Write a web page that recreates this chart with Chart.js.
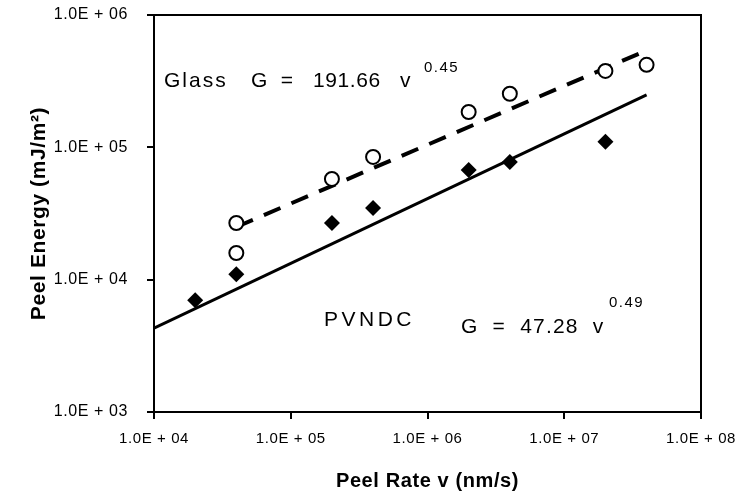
<!DOCTYPE html>
<html>
<head>
<meta charset="utf-8">
<script src="https://cdn.jsdelivr.net/npm/chart.js@4.4.1/dist/chart.umd.min.js"></script>
<style>
  html, body { margin: 0; padding: 0; background: #fff; }
  #wrap { width: 736px; height: 491px; }
</style>
</head>
<body>
<div id="wrap"><canvas id="peelChart" width="736" height="491"></canvas></div>
<script>
// peel energy vs peel rate, log-log

// measured points
const glassRate = [4e4, 4e4, 2e5, 4e5, 2e6, 4e6, 2e7, 4e7];
const glassEnergy = [2.68e4, 1.59e4, 5.77e4, 8.46e4, 1.85e5, 2.54e5, 3.78e5, 4.2e5];
const pvndcRate = [2e4, 4e4, 2e5, 4e5, 2e6, 4e6, 2e7];
const pvndcEnergy = [7.0e3, 1.10e4, 2.68e4, 3.48e4, 6.75e4, 7.76e4, 1.10e5];

// fitted power-law lines (end points)
const glassFitRate = [4e4, 4e7];
const glassFitEnergy = [2.5e4, 5.4e5];
const pvndcFitRate = [1e4, 4e7];
const pvndcFitEnergy = [4.3e3, 2.49e5];

// axes
const xTickValues = [1e4, 1e5, 1e6, 1e7, 1e8];
const xTickLabels = ['1.0E + 04', '1.0E + 05', '1.0E + 06', '1.0E + 07', '1.0E + 08'];
const yTickValues = [1e3, 1e4, 1e5, 1e6];
const yTickLabels = ['1.0E + 03', '1.0E + 04', '1.0E + 05', '1.0E + 06'];

const FONT = "'Liberation Sans', Arial, sans-serif";

function toPoints(xs, ys) {
    return xs.map((x, i) => ({ x: x, y: ys[i] }));
}

// no extra room for overhanging edge labels, layout padding decides
function noEdgePadding(scale) {
    scale.paddingLeft = 0;
    scale.paddingRight = 0;
    scale.paddingTop = 0;
    scale.paddingBottom = 0;
}

// frame around the plot + equation labels
const framePlugin = {
    id: 'frame',
    beforeDraw(chart) {
        chart.ctx.letterSpacing = '0.6px';
    },
    afterDraw(chart) {
        const ctx = chart.ctx;
        const a = chart.chartArea;
        ctx.save();
        ctx.strokeStyle = '#000';
        ctx.lineWidth = 2;
        ctx.strokeRect(a.left, a.top, a.right - a.left, a.bottom - a.top);

        ctx.fillStyle = '#000';
        ctx.textBaseline = 'alphabetic';
        ctx.textAlign = 'left';

        ctx.font = '21px ' + FONT;
        ctx.letterSpacing = '2px';
        ctx.fillText('Glass', 164, 87);
        ctx.letterSpacing = '0.6px';
        ctx.fillText('G  =   191.66   v', 251, 87);
        ctx.font = '15px ' + FONT;
        ctx.letterSpacing = '1.5px';
        ctx.fillText('0.45', 424, 72);

        ctx.font = '21px ' + FONT;
        ctx.letterSpacing = '3.5px';
        ctx.fillText('PVNDC', 324, 326);
        ctx.letterSpacing = '1.2px';
        ctx.fillText('G  =  47.28  v', 461, 333);
        ctx.font = '15px ' + FONT;
        ctx.letterSpacing = '1.5px';
        ctx.fillText('0.49', 609, 307);
        ctx.restore();
    }
};

const ctx = document.getElementById('peelChart').getContext('2d');
new Chart(ctx, {
    type: 'scatter',
    data: {
        datasets: [
            {
                label: 'Glass',
                data: toPoints(glassRate, glassEnergy),
                pointStyle: 'circle',
                pointRadius: 7,
                pointBorderWidth: 2,
                pointBackgroundColor: '#fff',
                pointBorderColor: '#000',
                showLine: false,
                order: 1
            },
            {
                label: 'PVNDC',
                data: toPoints(pvndcRate, pvndcEnergy),
                pointStyle: 'rectRot',
                pointRadius: 8,
                pointBorderWidth: 0,
                pointBackgroundColor: '#000',
                pointBorderColor: '#000',
                showLine: false,
                order: 2
            },
            {
                label: 'Glass fit',
                data: toPoints(glassFitRate, glassFitEnergy),
                showLine: true,
                borderColor: '#000',
                borderWidth: 4,
                borderDash: [18, 12],
                pointRadius: 0,
                order: 3
            },
            {
                label: 'PVNDC fit',
                data: toPoints(pvndcFitRate, pvndcFitEnergy),
                showLine: true,
                borderColor: '#000',
                borderWidth: 3,
                pointRadius: 0,
                order: 4
            }
        ]
    },
    options: {
        responsive: false,
        animation: false,
        layout: { padding: { top: 15, right: 35, left: 0, bottom: 0 } },
        plugins: {
            legend: { display: false },
            tooltip: { enabled: false }
        },
        scales: {
            x: {
                type: 'logarithmic',
                min: 1e4,
                max: 1e8,
                afterBuildTicks(scale) {
                    scale.ticks = xTickValues.map(v => ({ value: v }));
                },
                afterFit(scale) {
                    scale.height = 79;
                    noEdgePadding(scale);
                },
                ticks: {
                    color: '#000',
                    padding: 11,
                    maxRotation: 0,
                    font: { family: FONT, size: 15 },
                    callback: (v, i) => xTickLabels[i]
                },
                grid: { drawOnChartArea: false, drawTicks: true, tickLength: 7, color: '#000', lineWidth: 2 },
                border: { display: true, color: '#000', width: 2 },
                title: {
                    display: true,
                    text: 'Peel Rate v (nm/s)',
                    color: '#000',
                    font: { family: FONT, size: 20, weight: 'bold', lineHeight: 1 },
                    padding: { top: 0, bottom: 0 }
                }
            },
            y: {
                type: 'logarithmic',
                min: 1e3,
                max: 1e6,
                afterBuildTicks(scale) {
                    scale.ticks = yTickValues.map(v => ({ value: v }));
                },
                afterFit(scale) {
                    scale.width = 154;
                    noEdgePadding(scale);
                },
                ticks: {
                    color: '#000',
                    padding: 19,
                    font: { family: FONT, size: 16 },
                    callback: (v, i) => yTickLabels[i]
                },
                grid: { drawOnChartArea: false, drawTicks: true, tickLength: 7, color: '#000', lineWidth: 2 },
                border: { display: true, color: '#000', width: 2 },
                title: {
                    display: true,
                    text: 'Peel Energy (mJ/m²)',
                    color: '#000',
                    font: { family: FONT, size: 21, weight: 'bold', lineHeight: 1 },
                    padding: { top: 29, bottom: 0 }
                }
            }
        }
    },
    plugins: [framePlugin]
});
</script>
</body>
</html>
